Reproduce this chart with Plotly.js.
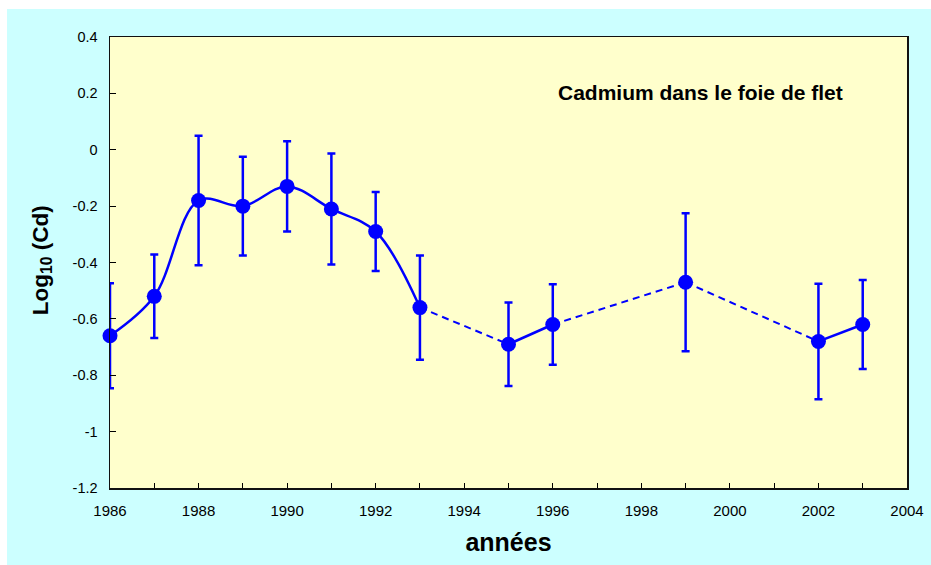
<!DOCTYPE html>
<html>
<head>
<meta charset="utf-8">
<script src="https://cdn.plot.ly/plotly-3.0.1.min.js"></script>
<style>
  html, body { margin: 0; padding: 0; background: #ffffff; }
  #chart { position: absolute; left: 7px; top: 9px; width: 924px; height: 556px; }
</style>
</head>
<body>
<div id="chart"></div>
<script>
// ---- data ----
var years   = [1986, 1987, 1988, 1989, 1990, 1991, 1992, 1993, 1995, 1996, 1999, 2002, 2003];
var logCd   = [-0.66, -0.52, -0.18, -0.20, -0.13, -0.21, -0.29, -0.56, -0.69, -0.62, -0.47, -0.68, -0.62];
var errCd   = [0.186, 0.148, 0.23, 0.175, 0.16, 0.197, 0.14, 0.185, 0.148, 0.143, 0.245, 0.205, 0.158];
var xTickVals = [1986, 1988, 1990, 1992, 1994, 1996, 1998, 2000, 2002, 2004];
var yTickVals = [0.4, 0.2, 0, -0.2, -0.4, -0.6, -0.8, -1, -1.2];
var yTickText = ['0.4', '0.2', '0', '-0.2', '-0.4', '-0.6', '-0.8', '-1', '-1.2'];
var chartTitle = 'Cadmium dans le foie de flet';
var xTitle = 'années';
var yTitle = 'Log<sub>10</sub> (Cd)';

var BLUE = '#0000FF';
var FONT = 'Liberation Sans, Arial, sans-serif';

// consecutive years -> solid smoothed line; gaps -> dashed line
var traces = [];
var runStart = 0;
for (var i = 1; i <= years.length; i++) {
  if (i === years.length || years[i] - years[i - 1] !== 1) {
    if (i - runStart >= 2) {
      traces.push({
        x: years.slice(runStart, i), y: logCd.slice(runStart, i),
        type: 'scatter', mode: 'lines',
        line: {color: BLUE, width: 2.5, shape: 'spline', smoothing: 1},
        hoverinfo: 'skip', showlegend: false, cliponaxis: false
      });
    }
    if (i < years.length) {
      traces.push({
        x: years.slice(i - 1, i + 1), y: logCd.slice(i - 1, i + 1),
        type: 'scatter', mode: 'lines',
        line: {color: BLUE, width: 2, dash: '7px,5px'},
        hoverinfo: 'skip', showlegend: false, cliponaxis: false
      });
    }
    runStart = i;
  }
}
traces.push({
  x: years, y: logCd,
  type: 'scatter', mode: 'markers',
  marker: {color: BLUE, size: 15},
  error_y: {type: 'data', array: errCd, visible: true, color: BLUE, thickness: 2.5, width: 4},
  showlegend: false, cliponaxis: false
});

var layout = {
  width: 924, height: 556,
  paper_bgcolor: '#CCFFFF',
  plot_bgcolor: '#FFFFCC',
  margin: {l: 103, r: 24, t: 28, b: 77},
  font: {family: FONT, size: 15, color: '#000'},
  showlegend: false,
  xaxis: {
    range: [1986, 2004], tickvals: xTickVals, ticks: 'inside', ticklen: 5, tickwidth: 1,
    tickcolor: '#000', showgrid: false, zeroline: false,
    showline: true, mirror: true, linecolor: '#111', linewidth: 1.5,
    ticklabelstandoff: 8,
    minor: {dtick: 1, ticks: 'inside', ticklen: 5, tickcolor: '#000', showgrid: false},
    tickfont: {family: FONT, size: 15, color: '#000'},
    title: {text: xTitle, font: {family: FONT, size: 25, color: '#000', weight: 'bold'}, standoff: 16}
  },
  yaxis: {
    range: [-1.2, 0.4], tickvals: yTickVals, ticktext: yTickText, ticks: 'inside', ticklen: 6,
    tickcolor: '#000', showgrid: false, zeroline: false,
    showline: true, mirror: true, linecolor: '#111', linewidth: 1.5,
    ticklabelstandoff: 8,
    tickfont: {family: FONT, size: 14.5, color: '#000'}
  },
  annotations: [
    {text: '<b>' + chartTitle + '</b>', xref: 'paper', yref: 'paper', x: 0.7415, y: 0.876,
     xanchor: 'center', yanchor: 'middle', showarrow: false,
     font: {family: FONT, size: 21, color: '#000'}},
    {text: '<b>' + yTitle + '</b>', xref: 'paper', yref: 'paper', x: -0.0853, y: 0.505,
     xanchor: 'center', yanchor: 'middle', textangle: -90, showarrow: false,
     font: {family: FONT, size: 22.5, color: '#000'}}
  ]
};

Plotly.newPlot('chart', traces, layout, {staticPlot: true, displayModeBar: false});
</script>
</body>
</html>
